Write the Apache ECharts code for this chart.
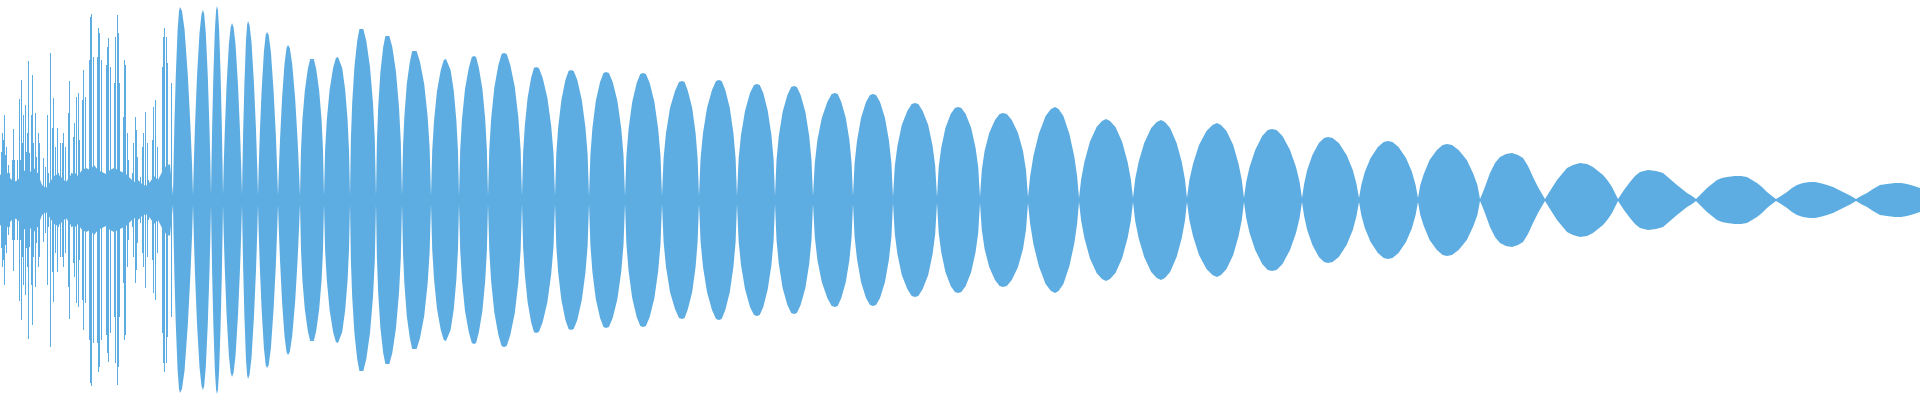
<!DOCTYPE html>
<html>
<head>
<meta charset="utf-8">
<script src="https://cdn.jsdelivr.net/npm/echarts@6/dist/echarts.min.js"></script>
<style>
html,body{margin:0;padding:0;background:#ffffff;}
#chart{width:1920px;height:400px;}
</style>
</head>
<body>
<div id="chart"></div>
<script>
// Envelope of the waveform: sample position and amplitude (drawn as +/- amplitude)
const envX = [
0,6,10,14,18,22,26,30,34,38,42,46,50,54,58,62,66,70,74,78,82,86,90,94,98,102,106,110,114,118,122,126,130,134,138,142,146,150,154,158,162,166,170,
173,173.6,174.4,175.8,177.6,179,180,182,184.6,187.8,190.4,192,
193,193.8,195,197,199.5,201.5,203,204.2,205.8,207.8,209.4,210.4,
211,211.5,212.2,213.4,214.9,216.1,217,217.9,219.1,220.6,221.8,222.5,
223,223.7,224.8,226.6,228.9,230.7,232,233.5,235.5,238,240,241.2,
242,242.5,243.2,244.4,245.9,247.1,248,249.5,251.5,254,256,257.2,
258,258.7,259.8,261.6,263.9,265.7,267,268.7,270.9,273.6,275.8,277.1,
278,278.8,280,282,284.5,286.5,288,289.8,292.2,295.2,297.6,299,
300,301,302.4,304.8,307.8,310.2,312,313.8,316.2,319.2,321.6,323,
324,325.1,326.8,329.6,333.1,335.9,338,339.8,342.2,345.2,347.6,349,
350,350.9,352.2,354.4,357.2,359.4,361,363.3,366.3,370,373,374.8,
376,376.9,378.2,380.4,383.2,385.4,387,389.3,392.3,396,399,400.8,
402,403,404.4,406.8,409.8,412.2,414,416.6,420,424.2,427.6,429.6,
431,432.2,434,437,440.8,443.8,446,448,450.6,453.8,456.4,458,
459,460.2,462,465,468.8,471.8,474,476.1,478.9,482.4,485.2,486.9,
488,489.3,491.2,494.4,498.4,501.6,504,506.7,510.3,514.8,518.4,520.6,
522,523.1,524.8,527.6,531.1,533.9,536,538.9,542.7,547.4,551.2,553.5,
555,556.3,558.2,561.4,565.4,568.6,571,573.7,577.3,581.8,585.4,587.6,
589,590.4,592.4,595.8,600.1,603.5,606,608.9,612.7,617.4,621.2,623.5,
625,626.4,628.6,632.2,636.7,640.3,643,645.9,649.7,654.4,658.2,660.5,
662,663.6,666,670,675,679,682,684.6,687.9,692.2,695.6,697.6,
699,700.6,703,707,712,716,719,721.7,725.3,729.8,733.4,735.6,
737,738.6,741,745,750,754,757,759.7,763.3,767.8,771.4,773.6,
775,776.5,778.8,782.6,787.4,791.2,794,796.9,800.6,805.4,809.2,811.5,
813,814.8,817.4,821.8,827.3,831.7,835,837.7,841.3,845.8,849.4,851.6,
853,854.6,857,861,866,870,873,876,880,885,889,891.4,
893,894.8,897.4,901.8,907.3,911.7,915,918.3,922.7,928.2,932.6,935.2,
937,938.7,941.2,945.4,950.7,954.9,958,961.3,965.7,971.2,975.6,978.2,
980,981.8,984.6,989.2,995,999.6,1003,1006.8,1011.8,1018,1023,1026,
1028,1030.2,1033.4,1038.8,1045.6,1051,1055,1058.6,1063.4,1069.4,1074.2,1077.1,
1079,1081.2,1084.4,1089.8,1096.6,1102,1106,1110,1115.5,1122.2,1127.6,1130.8,
1133,1135.2,1138.6,1144.2,1151.2,1156.8,1161,1164.9,1170.1,1176.6,1181.8,1184.9,
1187,1189.4,1193,1199,1206.5,1212.5,1217,1221,1226.5,1233.2,1238.6,1241.8,
1244,1246.2,1249.6,1255.2,1262.2,1267.8,1272,1276.5,1282.5,1290,1296,1299.6,
1302,1304.1,1307.2,1312.4,1318.9,1324.1,1328,1332.6,1338.8,1346.6,1352.8,1356.5,
1359,1361.3,1364.8,1370.6,1377.9,1383.7,1388,1392.5,1398.5,1406,1412,1415.6,
1418,1420.3,1423.8,1429.6,1436.9,1442.7,1447,1452,1458.6,1466.8,1473.4,1477.4,
1480,1483,1486,1490,1495,1500,1506,1512,1518,1523,1528,1533,1538,1542,
1545,1550,1557,1562,1567,1573,1580,1587,1593,1598,1603,1608,1612,1615,
1618,1624,1630,1635,1640,1648,1656,1663,1670,1677,1682,1687,1692,
1696,1701,1707,1712,1717,1722,1727,1735,1741,1747,1752,1757,1762,1767,1772,
1776,1781,1787,1792,1797,1803,1810,1815,1820,1827,1833,1839,1845,1851,
1856,1861,1867,1873,1880,1887,1895,1901,1907,1914,1920
];
const envAmp = [
25,30,22,18,20,28,30,28,32,26,15,12,18,24,26,22,18,24,28,24,30,32,30,35,30,28,26,30,32,30,28,26,22,18,20,16,14,18,24,20,28,34,36,
5,37,75,125,170,189,193,189,170,125,75,37,
5,36,74,124,167,186,190,186,167,124,74,36,
5,37,76,126,171,190,194,190,171,126,76,37,
5,34,69,115,156,173,177,173,156,115,69,34,
5,34,70,116,158,175,179,175,158,116,70,34,
5,32,66,109,148,165,168,165,148,109,66,32,
5,29,60,101,136,152,155,152,136,101,60,29,
4,50,80,109,131,141,142,141,131,109,80,50,
4,50,80,110,132,142,143,142,132,110,80,50,
4,61,97,133,159,171,173,171,159,133,97,61,
4,58,93,128,153,164,166,164,153,128,93,58,
4,53,84,116,138,149,150,149,138,116,84,53,
4,49,79,109,130,140,141,140,130,109,79,49,
4,50,81,111,132,143,144,143,132,111,81,50,
4,51,82,113,135,146,147,146,135,113,82,51,
4,47,74,102,122,132,133,132,122,102,74,47,
4,46,73,100,120,129,130,129,120,100,73,46,
4,45,72,99,118,127,128,127,118,99,72,45,
4,44,71,98,117,126,127,126,117,98,71,44,
4,42,67,92,109,118,119,118,109,92,67,42,
4,42,67,92,110,119,120,119,110,92,67,42,
4,41,65,89,107,115,116,115,107,89,65,41,
4,40,64,88,105,113,114,113,105,88,64,40,
4,37,60,82,98,106,107,106,98,82,60,37,
4,37,59,82,98,105,106,105,98,82,59,37,
3,34,54,75,89,96,97,96,89,75,54,34,
3,33,52,72,86,92,93,92,86,72,52,33,
3,30,49,67,80,86,87,86,80,67,49,30,
3,24,44,66,84,91,93,91,84,66,44,24,
2,21,38,58,73,79,81,79,73,58,38,21,
2,21,38,57,72,78,80,78,72,57,38,21,
2,20,36,55,69,75,77,75,69,55,36,20,
2,18,33,50,64,70,71,70,64,50,33,18,
2,16,30,45,57,62,63,62,57,45,30,16,
2,15,28,42,53,58,59,58,53,42,28,15,
2,15,26,40,50,55,56,55,50,40,26,15,
1,8,16,27,37,43,46,47,45,42,34,23,13,6,
1,9,20,26,32,35,37,36,33,29,25,19,13,7,
1,10,18,24,28,30,29,27,21,15,11,7,4,
1,6,12,16,20,22,23,24,24,23,20,17,13,8,4,
1,4,8,12,15,17,18,18,17,15,13,10,7,4,
1,4,7,11,15,16,17,17,16,14,12
];
// Thin individual spikes in the noisy onset (sample position, amplitude)
const spikeX = [1,2,3,4,5,6,8,9,12,13,14,17,19,20,21,22,23,25,26,27,28,29,31,32,33,35,36,37,38,39,42,43,45,47,48,50,52,53,55,57,58,60,62,63,65,68,69,71,73,74,76,78,79,82,83,85,87,89,90,91,93,95,97,98,99,101,103,106,107,108,110,112,114,115,117,118,119,122,123,124,125,127,128,132,133,135,136,137,140,142,143,145,147,148,150,152,153,155,157,160,162,163,164,166,167,169,171];
const spikeAmp = [48,67,60,85,45,53,35,27,40,71,40,40,101,40,120,57,85,95,48,67,139,47,85,125,57,87,43,27,67,57,13,42,33,85,27,147,72,102,53,72,27,57,57,67,53,87,119,27,63,77,103,107,60,100,130,103,27,140,183,186,143,27,143,172,167,140,27,135,153,162,133,27,117,163,185,167,117,27,83,140,135,67,40,27,57,83,70,43,23,53,67,88,57,20,13,60,93,100,53,20,133,163,172,163,137,23,117];

const COLOR = '#5dade2';

const upper = envX.map((x, i) => [x, envAmp[i]]);
const lower = envX.map((x, i) => [x, -envAmp[i]]);
const spikes = spikeX.map((x, i) => [x, spikeAmp[i]]);

const chart = echarts.init(document.getElementById('chart'), null, {renderer: 'canvas'});
chart.setOption({
  animation: false,
  backgroundColor: '#ffffff',
  grid: {left: 0, right: 0, top: 0, bottom: 0},
  xAxis: {type: 'value', min: 0, max: 1920, show: false},
  yAxis: {type: 'value', min: -200, max: 200, show: false},
  series: [
    {
      type: 'line', data: upper, symbol: 'none', silent: true,
      lineStyle: {width: 0}, areaStyle: {color: COLOR, opacity: 1}
    },
    {
      type: 'line', data: lower, symbol: 'none', silent: true,
      lineStyle: {width: 0}, areaStyle: {color: COLOR, opacity: 1}
    },
    {
      type: 'custom', data: spikes, silent: true,
      encode: {x: 0, y: 1},
      renderItem: function (params, api) {
        const x = api.value(0), v = api.value(1);
        const a = api.coord([x, v]);
        const b = api.coord([x + 1, -v]);
        return {
          type: 'rect',
          shape: {x: a[0], y: a[1], width: b[0] - a[0], height: b[1] - a[1]},
          style: {fill: COLOR}
        };
      }
    }
  ]
});
</script>
</body>
</html>
